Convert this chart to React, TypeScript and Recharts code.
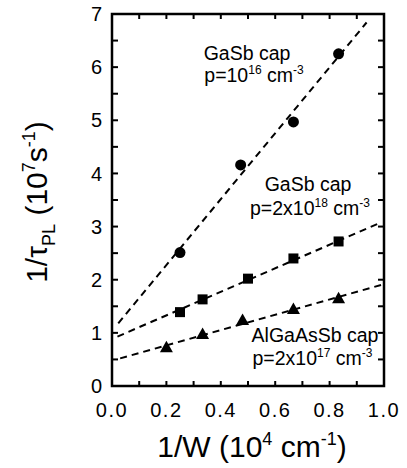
import {
  ComposedChart,
  Scatter,
  XAxis,
  YAxis,
  ReferenceLine,
  Customized,
} from "recharts";

const FONT = '"Liberation Sans", Arial, sans-serif';

// measured points (1/W in 10^4 cm^-1, 1/tau in 10^7 s^-1)
const capLowX = [0.25, 0.473, 0.667, 0.833];
const capLowY = [2.51, 4.16, 4.97, 6.25];
const capHighX = [0.25, 0.333, 0.5, 0.667, 0.833];
const capHighY = [1.39, 1.63, 2.02, 2.4, 2.72];
const alCapX = [0.2, 0.333, 0.48, 0.667, 0.833];
const alCapY = [0.73, 0.98, 1.24, 1.45, 1.65];

// dashed fit lines, start and end points
const fitLow = [{ x: 0.023, y: 1.18 }, { x: 0.936, y: 6.84 }];
const fitHigh = [{ x: 0.02, y: 0.93 }, { x: 0.99, y: 3.08 }];
const fitAl = [{ x: 0.03, y: 0.52 }, { x: 0.995, y: 1.91 }];

const xTicks = [0, 0.1, 0.2, 0.3, 0.4, 0.5, 0.6, 0.7, 0.8, 0.9, 1.0];
const yTicks = [0, 0.5, 1, 1.5, 2, 2.5, 3, 3.5, 4, 4.5, 5, 5.5, 6, 6.5, 7];
const X_MIN = 0;
const X_MAX = 1;
const Y_MIN = 0;
const Y_MAX = 7;

// plot box in px: chart margins + axis sizes
const W = 407;
const H = 468;
const M = { top: 14, right: 23, bottom: 0, left: 0 };
const Y_AXIS_W = 112;
const X_AXIS_H = 82;
const box = {
  left: M.left + Y_AXIS_W,
  right: W - M.right,
  top: M.top,
  bottom: H - M.bottom - X_AXIS_H,
};

const zip = (xs: number[], ys: number[]) => xs.map((x, i) => ({ x, y: ys[i] }));
const circles = zip(capLowX, capLowY);
const squares = zip(capHighX, capHighY);
const triangles = zip(alCapX, alCapY);

const dash = { stroke: "#000", strokeWidth: 2, strokeDasharray: "7 5" };

function BottomTick({ x, y, payload }: any) {
  const v = payload.value;
  if (Math.round(v * 10) % 2 !== 0) return null;
  return (
    <text x={x} y={y + 31} textAnchor="middle" fontSize={20} letterSpacing={1.5} fontFamily={FONT} fill="#000">
      {v.toFixed(1)}
    </text>
  );
}

function LeftTick({ x, y, payload }: any) {
  const v = payload.value;
  if (!Number.isInteger(v)) return null;
  return (
    <text x={x - 10} y={y} dy="0.36em" textAnchor="end" fontSize={20} fontFamily={FONT} fill="#000">
      {v}
    </text>
  );
}

const Circle = ({ cx, cy }: any) => <circle cx={cx} cy={cy} r={5.5} fill="#000" />;
const Square = ({ cx, cy }: any) => <rect x={cx - 5} y={cy - 5} width={10} height={10} fill="#000" />;
const Triangle = ({ cx, cy }: any) => (
  <polygon points={`${cx},${cy - 6.5} ${cx - 6.5},${cy + 5} ${cx + 6.5},${cy + 5}`} fill="#000" />
);

// closed frame with inward ticks on all four sides
function Frame() {
  const sx = (v: number) => box.left + ((v - X_MIN) / (X_MAX - X_MIN)) * (box.right - box.left);
  const sy = (v: number) => box.bottom - ((v - Y_MIN) / (Y_MAX - Y_MIN)) * (box.bottom - box.top);
  return (
    <g stroke="#000" fill="none">
      {xTicks.slice(1, -1).map((v) => (
        <g key={`x${v}`} strokeWidth={2}>
          <line x1={sx(v)} x2={sx(v)} y1={box.bottom} y2={box.bottom - 5} />
          <line x1={sx(v)} x2={sx(v)} y1={box.top} y2={box.top + 5} />
        </g>
      ))}
      {yTicks.slice(1, -1).map((v) => (
        <g key={`y${v}`} strokeWidth={2}>
          <line x1={box.left} x2={box.left + 6} y1={sy(v)} y2={sy(v)} />
          <line x1={box.right} x2={box.right - 6} y1={sy(v)} y2={sy(v)} />
        </g>
      ))}
      <rect x={box.left} y={box.top} width={box.right - box.left} height={box.bottom - box.top} strokeWidth={2.5} />
    </g>
  );
}

function Labels() {
  const t = { fontFamily: FONT, fill: "#000", textAnchor: "middle" as const };
  return (
    <g>
      <Frame />
      <text x={247} y={60} fontSize={19.5} {...t}>GaSb cap</text>
      <text x={254} y={81.7} fontSize={19.5} {...t}>
        p=10<tspan dy={-8} fontSize={12}>16</tspan>
        <tspan dy={8}> cm</tspan>
        <tspan dy={-8} fontSize={12}>-3</tspan>
      </text>

      <text x={308} y={190.7} fontSize={19.5} {...t}>GaSb cap</text>
      <text x={310} y={215} fontSize={19.5} {...t}>
        p=2x10<tspan dy={-8} fontSize={12}>18</tspan>
        <tspan dy={8}> cm</tspan>
        <tspan dy={-8} fontSize={12}>-3</tspan>
      </text>

      <text x={315} y={341.7} fontSize={19.5} {...t}>AlGaAsSb cap</text>
      <text x={312.5} y={365} fontSize={19.5} {...t}>
        p=2x10<tspan dy={-8} fontSize={12}>17</tspan>
        <tspan dy={8}> cm</tspan>
        <tspan dy={-8} fontSize={12}>-3</tspan>
      </text>

      <text x={252} y={456.7} fontSize={30} {...t}>
        1/W (10<tspan dy={-12} fontSize={18}>4</tspan>
        <tspan dy={12}> cm</tspan>
        <tspan dy={-12} fontSize={18}>-1</tspan>
        <tspan dy={12}>)</tspan>
      </text>

      <text transform="translate(47,202) rotate(-90)" x={0} y={0} fontSize={30} {...t}>
        1/τ<tspan dy={8} fontSize={18}>PL</tspan>
        <tspan dy={-8}> (10</tspan>
        <tspan dy={-12} fontSize={18}>7</tspan>
        <tspan dy={12}>s</tspan>
        <tspan dy={-12} fontSize={18}>-1</tspan>
        <tspan dy={12}>)</tspan>
      </text>
    </g>
  );
}

export default function App() {
  return (
    <div style={{ position: "absolute", left: 0, top: 0, background: "#fff" }}>
      <ComposedChart width={W} height={H} margin={M}>
        <XAxis
          type="number"
          dataKey="x"
          domain={[X_MIN, X_MAX]}
          ticks={xTicks}
          interval={0}
          height={X_AXIS_H}
          tickSize={0}
          tickMargin={0}
          tickLine={false}
          axisLine={false}
          tick={<BottomTick />}
        />
        <YAxis
          type="number"
          dataKey="y"
          domain={[Y_MIN, Y_MAX]}
          ticks={yTicks}
          interval={0}
          width={Y_AXIS_W}
          tickSize={0}
          tickMargin={0}
          tickLine={false}
          axisLine={false}
          tick={<LeftTick />}
        />

        <ReferenceLine segment={fitLow} {...dash} ifOverflow="visible" />
        <ReferenceLine segment={fitHigh} {...dash} ifOverflow="visible" />
        <ReferenceLine segment={fitAl} {...dash} ifOverflow="visible" />

        <Scatter data={circles} shape={<Circle />} isAnimationActive={false} />
        <Scatter data={squares} shape={<Square />} isAnimationActive={false} />
        <Scatter data={triangles} shape={<Triangle />} isAnimationActive={false} />

        <Customized component={<Labels />} />
      </ComposedChart>
    </div>
  );
}
